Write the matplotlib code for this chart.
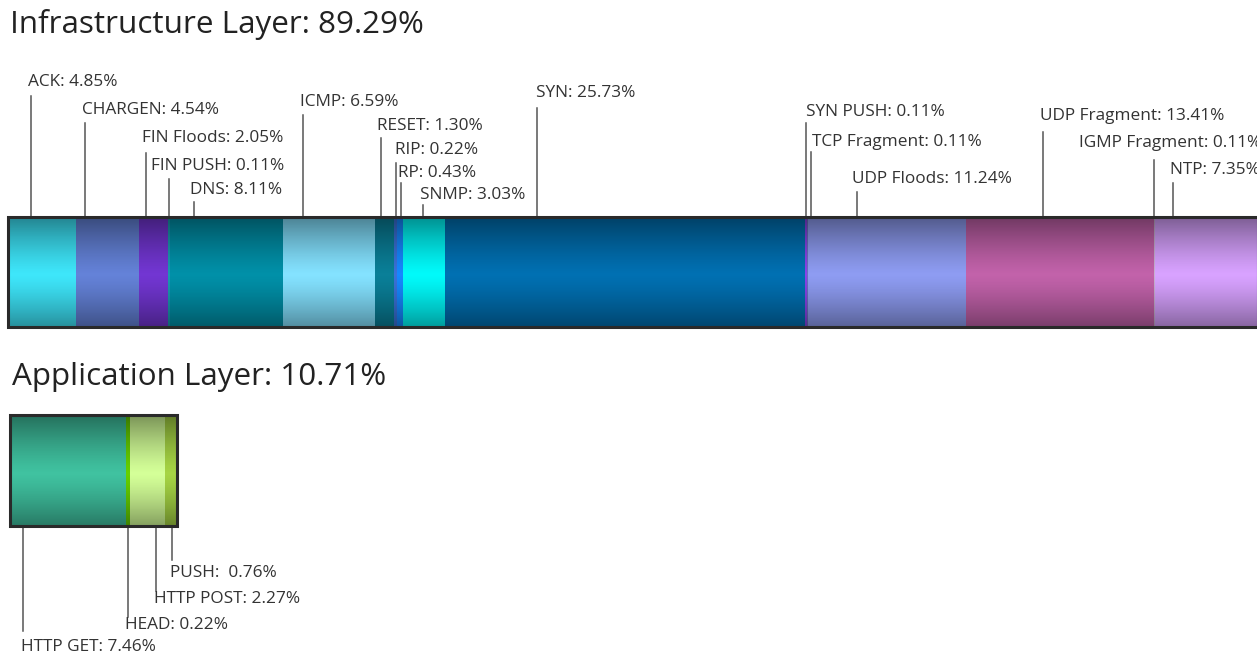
import numpy as np
import matplotlib
matplotlib.use("Agg")
import matplotlib.pyplot as plt

# ---------------- data ----------------
infra_title = "Infrastructure Layer: 89.29%"
infra_labels = ["ACK", "CHARGEN", "FIN Floods", "FIN PUSH", "DNS", "ICMP", "RESET",
                "RIP", "RP", "SNMP", "SYN", "SYN PUSH", "TCP Fragment", "UDP Floods",
                "UDP Fragment", "IGMP Fragment", "NTP"]
infra_values = [4.85, 4.54, 2.05, 0.11, 8.11, 6.59, 1.30, 0.22, 0.43, 3.03, 25.73,
                0.11, 0.11, 11.24, 13.41, 0.11, 7.35]
infra_colors = ["#3ee6fa", "#6482d8", "#7236d2", "#1a9ab0", "#0090a8", "#84e2ff",
                "#0a7f98", "#3a72d8", "#1688ff", "#00fafa", "#0070b2", "#8844e8",
                "#6a70c0", "#8e9cf2", "#c262aa", "#c8b0d0", "#d8a2ff"]

app_title = "Application Layer: 10.71%"
app_labels = ["HTTP GET", "HEAD", "HTTP POST", "PUSH"]
app_values = [7.46, 0.22, 2.27, 0.76]
app_colors = ["#40c2a0", "#66d000", "#d4ff98", "#a6d444"]

# ---------------- layout ----------------
W, H, DPI = 1257, 655, 100
infra_px = (8, 1258)          # pixel span of the infrastructure bar
infra_bar_y = (217, 327)      # pixel top/bottom
app_px = (10, 177)
app_bar_y = (415, 526)
# leader-line position as fraction inside each segment
infra_frac = [0.34, 0.14, 0.23, 0.5, 0.21, 0.21, 0.30, 0.73, 0.70, 0.48, 0.255,
              0.5, 2.6, 0.31, 0.41, 0.5, 0.17]
# label x offset from leader (px), label centre y and leader top y (pixels)
infra_text_dx = [-3, -3, -4, -18, -4, -3, -4, -1, -3, -3, -1, 0, 1, -5, -3, -75, -3]
infra_text_y = [82, 110, 138, 166, 190, 102, 126, 150, 173, 195, 93, 112, 142, 179, 116, 143, 170]
infra_line_top = [96, 123, 153, 179, 202, 115, 138, 163, 183, 205, 108, 123, 152, 192, 132, 160, 183]
app_frac = [0.11, 0.5, 0.74, 0.58]
app_text_dx = [-2, -3, -2, -2]
app_text_y = [647, 625, 599, 573]
app_line_bot = [631, 617, 591, 560]

plt.rcParams['font.family'] = ['Open Sans', 'DejaVu Sans']
LABEL_FS = 12.4
TITLE_FS = 22.6

fig = plt.figure(figsize=(W / DPI, H / DPI), dpi=DPI)
fig.patch.set_facecolor("white")


def make_axes(px_span, total):
    scale = (px_span[1] - px_span[0]) / total
    ax = fig.add_axes([0, 0, 1, 1])
    ax.set_xlim(-px_span[0] / scale, (W - px_span[0]) / scale)
    ax.set_ylim(H, 0)
    ax.axis("off")
    ax.patch.set_alpha(0)
    return ax, scale


def shade(ax, left, right, ytop, ybot):
    n = 200
    t = np.linspace(-1, 1, n)
    alpha = 0.40 * np.abs(t - 0.05) ** 1.3
    rgba = np.zeros((n, 1, 4))
    rgba[:, 0, 3] = np.clip(alpha, 0, 1)
    ax.imshow(rgba, extent=[left, right, ybot, ytop], aspect="auto",
              interpolation="bilinear", zorder=3)


def draw_bar(ax, scale, values, colors, bar_y):
    total = sum(values)
    lefts = np.concatenate([[0], np.cumsum(values)[:-1]])
    yc = (bar_y[0] + bar_y[1]) / 2
    hgt = bar_y[1] - bar_y[0]
    xl = ax.get_xlim()
    ax.barh([yc] * len(values), values, left=lefts, height=hgt, color=colors,
            edgecolor="none", zorder=2)
    shade(ax, 0, total, bar_y[0], bar_y[1])
    ax.barh([yc], [total], left=[0], height=hgt, fill=False,
            edgecolor="#2a2a2a", linewidth=2.2, zorder=4)
    ax.set_xlim(xl)
    ax.set_ylim(H, 0)
    return lefts


# ---- infrastructure ----
ax1, s1 = make_axes(infra_px, sum(infra_values))
lefts1 = draw_bar(ax1, s1, infra_values, infra_colors, infra_bar_y)
for lab, v, l, f, dx, ty, lt in zip(infra_labels, infra_values, lefts1, infra_frac,
                                    infra_text_dx, infra_text_y, infra_line_top):
    x = l + f * v
    ax1.plot([x, x], [lt, infra_bar_y[0]], color="#555555", lw=1.1, zorder=1)
    ax1.text(x + dx / s1, ty, f"{lab}: {v:.2f}%", ha="left", va="center",
             fontsize=LABEL_FS, color="#333333")
fig.text(10 / W, 1 - 25 / H, infra_title, ha="left", va="center",
         fontsize=TITLE_FS, color="#222222")

# ---- application ----
ax2, s2 = make_axes(app_px, sum(app_values))
lefts2 = draw_bar(ax2, s2, app_values, app_colors, app_bar_y)
for lab, v, l, f, dx, ty, lb in zip(app_labels, app_values, lefts2, app_frac,
                                    app_text_dx, app_text_y, app_line_bot):
    x = l + f * v
    ax2.plot([x, x], [app_bar_y[1], lb], color="#555555", lw=1.1, zorder=1)
    sep = ":  " if lab == "PUSH" else ": "
    ax2.text(x + dx / s2, ty, f"{lab}{sep}{v:.2f}%", ha="left", va="center",
             fontsize=LABEL_FS, color="#333333")
fig.text(12 / W, 1 - 377 / H, app_title, ha="left", va="center",
         fontsize=TITLE_FS, color="#222222")

fig.savefig("out.png", dpi=DPI, facecolor="white")
